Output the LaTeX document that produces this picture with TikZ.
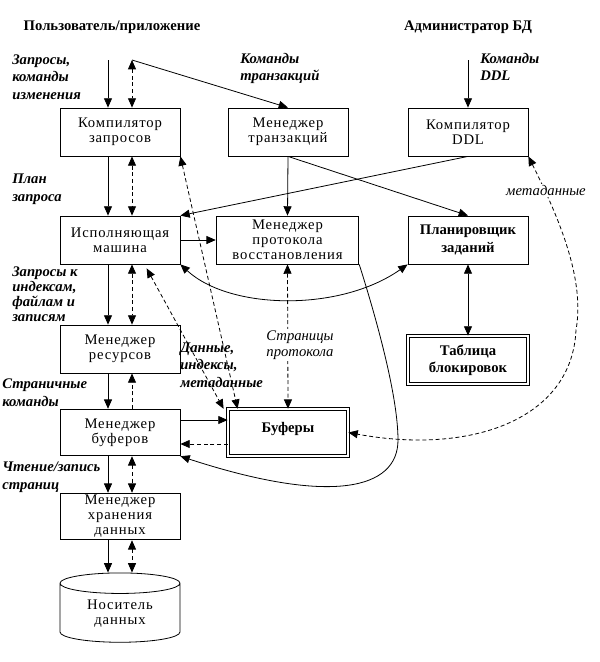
\documentclass[tikz,border=0pt]{standalone}
\usepackage{fontspec}
\setmainfont{Liberation Serif}
\newfontfamily\razryadka[LetterSpace=6]{Liberation Serif}
\usetikzlibrary{arrows.meta, shapes.geometric}

\tikzset{
    blok/.style={draw, line width=0.6pt, minimum width=90pt, minimum height=36pt, inner sep=1pt, align=center, font=\razryadka\fontsize{11}{11.25}\selectfont},
    dvoinoi/.style={blok, double, double distance=1.4pt, font=\fontsize{11}{13}\selectfont\bfseries},
    linia/.style={line width=0.6pt},
    punktir/.style={line width=0.6pt, dash pattern=on 3pt off 2pt},
    podpis/.style={anchor=west, align=left, inner sep=0pt, font=\fontsize{11}{13.3}\selectfont\bfseries\itshape},
    kursiv/.style={align=center, fill=white, inner sep=1pt, font=\fontsize{11}{12}\selectfont\itshape},
    zagolovok/.style={font=\fontsize{11}{13}\selectfont\bfseries},
}

\begin{document}
\begin{tikzpicture}[x=0.75pt, y=-0.75pt, >={Triangle[length=7pt, width=6pt]}]
    \useasboundingbox (0,0) rectangle (600,662);
    \node[zagolovok] (pol) at (112,27) {Пользователь/приложение};
    \node[zagolovok] (adm) at (468,27) {Администратор БД};
    \node[blok] (kz) at (120,132) {Компилятор\\запросов};
    \node[blok] (mt) at (288,132) {Менеджер\\транзакций};
    \node[blok] (kddl) at (468,132) {Компилятор\\DDL};
    \node[blok] (im) at (120,240) {Исполняющая\\машина};
    \node[blok, minimum width=107pt] (mpv) at (287.5,240) {Менеджер\\протокола\\восстановления};
    \node[blok, font=\fontsize{11}{13}\selectfont\bfseries] (pz) at (468,240) {Планировщик\\заданий};
    \node[dvoinoi] (tb) at (468,360) {Таблица\\блокировок};
    \node[blok] (mr) at (120,349) {Менеджер\\ресурсов};
    \node[blok, minimum height=35pt] (mb) at (120,432.5) {Менеджер\\буферов};
    \node[dvoinoi, minimum height=35pt, label={[anchor=north, yshift=-7pt, font=\fontsize{11}{13}\selectfont\bfseries]north:Буферы}] (buf) at (288,432.5) {};
    \node[blok, minimum height=35pt] (mh) at (120,516.5) {Менеджер\\хранения\\данных};
    \node[blok, cylinder, shape border rotate=90, aspect=0.3, minimum width=90pt, minimum height=52pt] (nos) at (120,614) {\raisebox{-5pt}{\begin{tabular}{@{}c@{}}Носитель\\данных\end{tabular}}};

    \coordinate (vx) at (108,60);
    \coordinate (vd) at (132,60);
    \coordinate (vddl) at (468,60);
    \coordinate (r1) at (0,420);
    \coordinate (r2) at (0,444);

    \draw[linia, ->] (vx) -- (vx |- kz.north);
    \draw[punktir, <->] (vd) -- (vd |- kz.north);
    \draw[linia, ->] (vd) -- (mt.north);
    \draw[linia, ->] (vddl) -- (kddl.north);
    \draw[linia, ->] (vx |- kz.south) -- (vx |- im.north);
    \draw[punktir, <->] (vd |- kz.south) -- (vd |- im.north);
    \draw[linia, ->] (vx |- im.south) -- (vx |- mr.north);
    \draw[punktir, <->] (vd |- im.south) -- (vd |- mr.north);
    \draw[linia, ->] (vx |- mr.south) -- (vx |- mb.north);
    \draw[punktir, ->] (vd |- mb.north) -- (vd |- mr.south);
    \draw[linia, ->] (vx |- mb.south) -- (vx |- mh.north);
    \draw[punktir, <->] (vd |- mb.south) -- (vd |- mh.north);
    \draw[linia, ->] (vx |- mh.south) -- (vx |- nos.north);
    \draw[punktir, <->] (vd |- mh.south) -- (vd |- nos.north);

    \draw[linia, ->] (mt.south) -- (mpv.north);
    \draw[linia, ->] (mt.south) -- (pz.north);
    \draw[linia, ->] (kddl.south) -- (im.north east);
    \draw[linia, ->] (im.east) -- (mpv.west);
    \draw[linia, <->] (im.south east) .. controls (230,310) and (340,312) .. (pz.south west);
    \draw[linia, <->] (pz.south) -- (tb.north);
    \draw[linia, ->] (mpv.south east) .. controls (380,330) and (398,400) .. (398,440) .. controls (398,490) and (330,505) .. (mb.south east);
    \draw[punktir, <->] (kddl.south east) .. controls (560,220) and (585,280) .. (576,330) .. controls (572,420) and (470,455) .. (buf.east);
    \draw[punktir, <->] (kz.south east) -- ([xshift=7.5pt]buf.north west);
    \draw[punktir, <->] ([xshift=20pt, yshift=-3pt]im.south) -- ([xshift=-3pt]buf.north west);
    \draw[punktir, <->] (mpv.south) -- (buf.north);
    \draw[linia, ->] (mb.east |- r1) -- (buf.west |- r1);
    \draw[punktir, ->] (buf.west |- r2) -- (mb.east |- r2);

    \node[podpis] (l1) at (12,77) {Запросы,\\команды\\изменения};
    \node[podpis] (l2) at (240,68.5) {Команды\\транзакций};
    \node[podpis] (l3) at (480,67) {Команды\\DDL};
    \node[podpis] (l4) at (12,189) {План\\запроса};
    \node[podpis, font=\fontsize{11}{11.25}\selectfont\bfseries\itshape] (l5) at (12,294.5) {Запросы к\\индексам,\\файлам и\\записям};
    \node[podpis] (l6) at (180,365) {Данные,\\индексы,\\метаданные};
    \node[podpis] (l7) at (2,392.5) {Страничные\\команды};
    \node[podpis] (l8) at (2,477) {Чтение/запись\\страниц};
    \node[kursiv] (l9) at (300,345) {Страницы\\протокола};
    \node[kursiv] (l10) at (546,190) {метаданные};
\end{tikzpicture}
\end{document}
